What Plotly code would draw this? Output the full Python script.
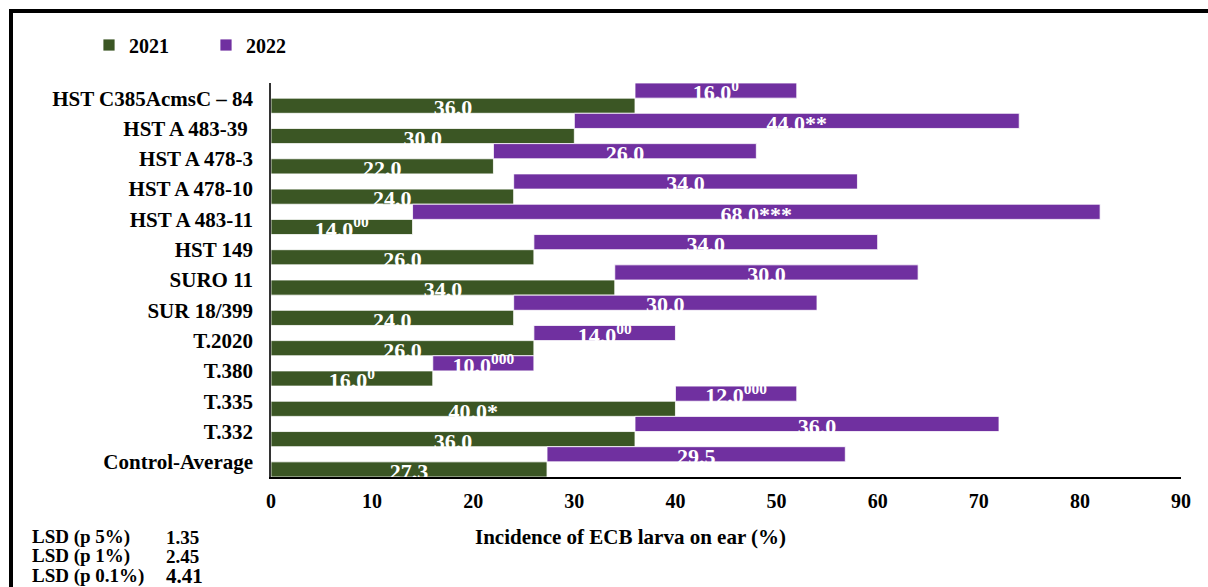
import plotly.graph_objects as go

# Hybrids / lines, listed top to bottom as they appear on the chart
varieties = [
    "HST C385AcmsC – 84",
    "HST A 483-39\u00a0",
    "HST A 478-3",
    "HST A 478-10",
    "HST A 483-11",
    "HST 149",
    "SURO 11",
    "SUR 18/399",
    "T.2020",
    "T.380",
    "T.335",
    "T.332",
    "Control-Average",
]

# Incidence of ECB larva on ear (%)
inc_2021 = [36.0, 30.0, 22.0, 24.0, 14.0, 26.0, 34.0, 24.0, 26.0, 16.0, 40.0, 36.0, 27.3]
inc_2022 = [16.0, 44.0, 26.0, 34.0, 68.0, 34.0, 30.0, 30.0, 14.0, 10.0, 12.0, 36.0, 29.5]

# Significance marks vs. control (* positive, 0 negative)
sig_2021 = ["", "", "", "", "<sup>00</sup>", "", "", "", "", "<sup>0</sup>", "*", "", ""]
sig_2022 = ["<sup>0</sup>", "**", "", "", "***", "", "", "", "<sup>00</sup>",
            "<sup>000</sup>", "<sup>000</sup>", "", ""]

x_ticks = [0, 10, 20, 30, 40, 50, 60, 70, 80, 90]

lsd_labels = ["LSD (p 5%)", "LSD (p 1%)", "LSD (p 0.1%)"]
lsd_values = ["1.35", "2.45", "4.41"]

GREEN = "#3B5624"
PURPLE = "#7030A0"
FONT = "Liberation Serif, Times New Roman, serif"

# plot-area geometry in pixels (used to place page furniture in paper coords)
W, H = 1208, 587
ML, MR, MT, MB = 271, 27, 83, 110
PW, PH = W - ML - MR, H - MT - MB


def px_x(p):
    return (p - ML) / PW


def px_y(p):
    return (H - MB - p) / PH


n = len(varieties)
rows = [n - 1 - k for k in range(n)]          # numeric row positions, top row highest
y21 = [r - 0.25 for r in rows]                 # 2021 bar in lower half of the row
y22 = [r + 0.25 for r in rows]                 # 2022 bar in upper half, stacked on 2021

lab21 = [f"{v:.1f}{s}" for v, s in zip(inc_2021, sig_2021)]
lab22 = [f"{v:.1f}{s}" for v, s in zip(inc_2022, sig_2022)]

fig = go.Figure()

fig.add_trace(go.Bar(
    name="2021", orientation="h", y=y21, x=inc_2021, width=0.5,
    marker=dict(color=GREEN, line=dict(color="rgba(255,255,255,0.8)", width=1)),
    hoverinfo="x",
))
fig.add_trace(go.Bar(
    name="2022", orientation="h", y=y22, x=inc_2022, base=inc_2021, width=0.5,
    marker=dict(color=PURPLE, line=dict(color="rgba(255,255,255,0.8)", width=1)),
    hoverinfo="x",
))

# value labels, sitting low in each bar
drop = 0.14
fig.add_trace(go.Scatter(
    x=[v / 2 for v in inc_2021], y=[y - drop for y in y21], text=lab21,
    mode="text", textposition="middle center", cliponaxis=True,
    textfont=dict(family=FONT, size=22, color="white", weight="bold"),
    showlegend=False, hoverinfo="skip",
))
fig.add_trace(go.Scatter(
    x=[b + v / 2 for b, v in zip(inc_2021, inc_2022)], y=[y - drop for y in y22], text=lab22,
    mode="text", textposition="middle center", cliponaxis=True,
    textfont=dict(family=FONT, size=22, color="white", weight="bold"),
    showlegend=False, hoverinfo="skip",
))

annotations = [
    dict(text="Incidence of ECB larva on ear (%)", xref="paper", yref="paper",
         x=px_x(630), y=px_y(537), xanchor="center", yanchor="middle", showarrow=False,
         font=dict(family=FONT, size=21, color="black", weight="bold")),
]
for i, (lab, val) in enumerate(zip(lsd_labels, lsd_values)):
    yy = [537, 556, 576][i]
    annotations.append(dict(text=lab, xref="paper", yref="paper", x=px_x(30), y=px_y(yy),
                            xanchor="left", yanchor="middle", showarrow=False,
                            font=dict(family=FONT, size=19, color="black", weight="bold")))
    annotations.append(dict(text=val, xref="paper", yref="paper", x=px_x(164), y=px_y(yy),
                            xanchor="left", yanchor="middle", showarrow=False,
                            font=dict(family=FONT, size=21 if i == 2 else 19,
                                      color="black", weight="bold")))

fig.update_layout(
    width=W, height=H,
    margin=dict(l=ML, r=MR, t=MT, b=MB, pad=0),
    paper_bgcolor="white", plot_bgcolor="white",
    barmode="overlay",
    font=dict(family=FONT, color="black"),
    showlegend=True,
    legend=dict(orientation="h", x=px_x(89), y=px_y(45), xanchor="left", yanchor="middle",
                font=dict(family=FONT, size=20, color="black", weight="bold"),
                bgcolor="rgba(0,0,0,0)", entrywidth=72, entrywidthmode="pixels",
                traceorder="normal"),
    xaxis=dict(range=[0, 90], tickvals=x_ticks, showgrid=False, zeroline=False,
               showline=True, linecolor="black", linewidth=1.5, ticks="",
               ticklabelstandoff=5,
               tickfont=dict(family=FONT, size=20, color="black", weight="bold")),
    yaxis=dict(range=[-0.5, n - 0.5], tickvals=rows, ticktext=varieties, showgrid=False,
               zeroline=False, showline=True, linecolor="#333333", linewidth=1.5, ticks="",
               ticklabelstandoff=12,
               tickfont=dict(family=FONT, size=21, color="black", weight="bold")),
    annotations=annotations,
    shapes=[dict(type="rect", xref="paper", yref="paper",
                 x0=px_x(11), x1=px_x(1300), y0=px_y(700), y1=px_y(11),
                 line=dict(color="black", width=4), fillcolor="rgba(0,0,0,0)", layer="above")],
)

fig.write_html("out.html")
